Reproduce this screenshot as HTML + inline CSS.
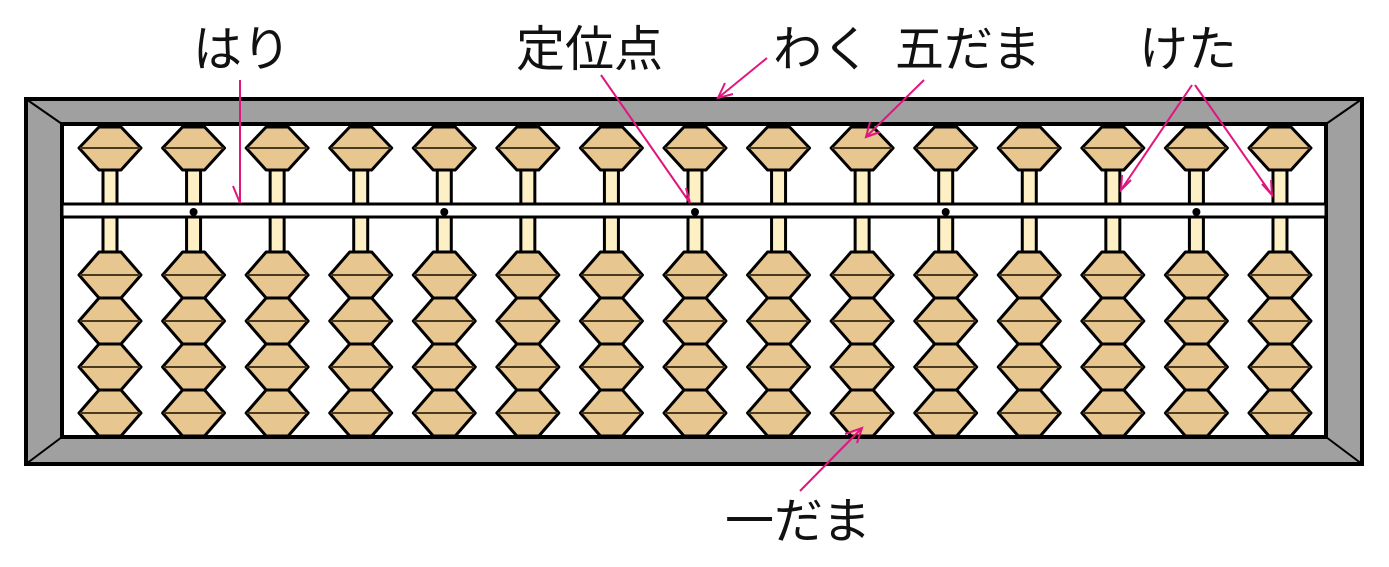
<!DOCTYPE html>
<html><head><meta charset="utf-8"><style>
html,body{margin:0;padding:0;background:#fff;}
svg{display:block}
text{font-family:"Liberation Sans","Noto Sans CJK JP",sans-serif;font-size:49px;fill:#111}
</style></head><body>
<svg id="s" width="1389" height="567" viewBox="0 0 1389 567" xmlns="http://www.w3.org/2000/svg">
<rect x="26" y="99" width="1336" height="365" fill="#a0a0a0" stroke="#000" stroke-width="4"/>
<line x1="26" y1="99" x2="62" y2="124" stroke="#000" stroke-width="2"/>
<line x1="1362" y1="99" x2="1326" y2="124" stroke="#000" stroke-width="2"/>
<line x1="26" y1="464" x2="62" y2="437" stroke="#000" stroke-width="2"/>
<line x1="1362" y1="464" x2="1326" y2="437" stroke="#000" stroke-width="2"/>
<rect x="62" y="124" width="1264" height="313" fill="#fff" stroke="#000" stroke-width="4"/>
<g id="cols"></g>
<rect x="62" y="204" width="1264" height="13" fill="#fff" stroke="#000" stroke-width="3"/>
<g id="dots"></g>
<g stroke="#e0157f" stroke-width="2" fill="none">
<line x1="240" y1="80" x2="240" y2="203"/><polyline points="233,186 240,203"/>
<line x1="601" y1="75" x2="690" y2="203"/><polyline points="686,188 690,203"/>
<line x1="767" y1="58" x2="718" y2="98"/><polyline points="725,83 718,98 733,94"/>
<line x1="924" y1="80" x2="866" y2="137"/><polyline points="870,122 866,137 880,132"/>
<line x1="1192" y1="85" x2="1121" y2="190"/><polyline points="1122,175 1121,190 1131,180"/>
<line x1="1195" y1="85" x2="1272" y2="195"/><polyline points="1262,184 1272,195 1271,180"/>
<line x1="800" y1="491" x2="862" y2="428"/><polyline points="845,434 862,428 857,443"/>
</g>
<text x="193" y="66">はり</text>
<text x="516" y="66">定位点</text>
<text x="773" y="66">わく</text>
<text x="895" y="66">五だま</text>
<text x="1139" y="66">けた</text>
<text x="725" y="538">一だま</text>
</svg>
<script>
var ns="http://www.w3.org/2000/svg",g=document.getElementById('cols'),d=document.getElementById('dots');
function el(t,a,p){var e=document.createElementNS(ns,t);for(var k in a)e.setAttribute(k,a[k]);p.appendChild(e);}
function bead(cx,t,m,b,p){
 el('polygon',{points:(cx-11)+','+t+' '+(cx+11)+','+t+' '+(cx+31)+','+m+' '+(cx+11)+','+b+' '+(cx-11)+','+b+' '+(cx-31)+','+m,fill:'#e8c690',stroke:'#000','stroke-width':3,'stroke-linejoin':'round'},p);
 el('line',{x1:cx-30,y1:m,x2:cx+30,y2:m,stroke:'#4a3a20','stroke-width':2},p);
}
for(var i=0;i<15;i++){
 var cx=110+i*83.57;
 el('rect',{x:cx-7,y:168,width:14,height:38,fill:'#fdf0c4',stroke:'#000','stroke-width':3},g);
 el('rect',{x:cx-7,y:215,width:14,height:40,fill:'#fdf0c4',stroke:'#000','stroke-width':3},g);
 bead(cx,127,148,170,g);
 var ys=[252,298,344,390,436];
 for(var j=0;j<4;j++){bead(cx,ys[j],(ys[j]+ys[j+1])/2,ys[j+1],g);}
 if(i%3==1) el('circle',{cx:cx,cy:212,r:4,fill:'#000'},d);
}
</script>
</body></html>
